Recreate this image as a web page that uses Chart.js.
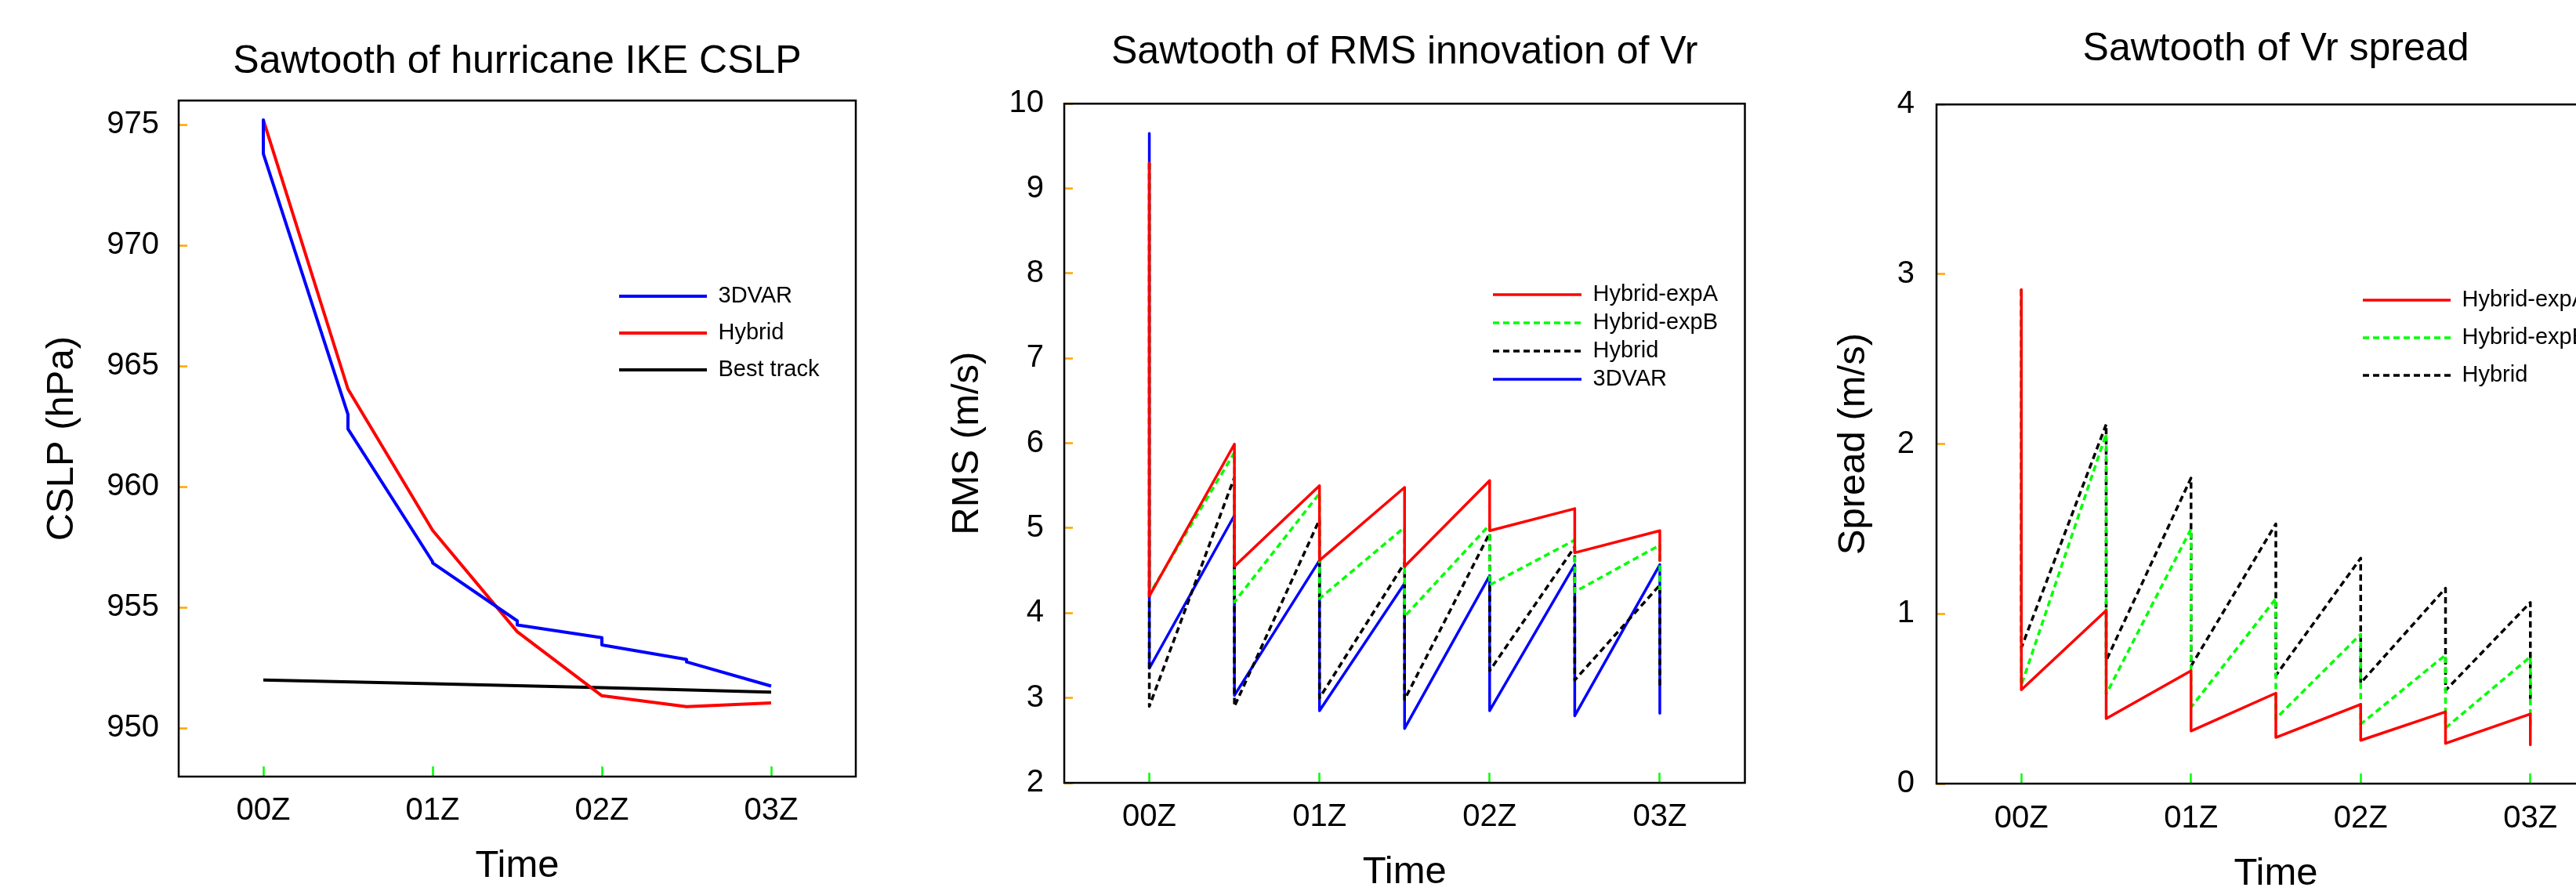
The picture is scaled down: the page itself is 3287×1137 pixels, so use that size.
<!DOCTYPE html>
<html>
<head>
<meta charset="utf-8">
<title>Sawtooth plots</title>
<script src="https://cdn.jsdelivr.net/npm/chart.js@4.4.1/dist/chart.umd.min.js"></script>
<style>
  html, body { margin: 0; padding: 0; width: 3287px; height: 1137px; overflow: hidden; background: #fff; }
  canvas { position: absolute; top: 0; }
</style>
</head>
<body>
<canvas id="cslp" width="1130" height="1137" style="left:0px"></canvas>
<canvas id="rms" width="1113" height="1137" style="left:1130px"></canvas>
<canvas id="spread" width="1134" height="1137" style="left:2243px"></canvas>
<script>
const cycle_hours = [0, 0.5, 1, 1.5, 2, 2.5, 3];
const hour_ticks = [0, 1, 2, 3];
const hour_labels = ["00Z", "01Z", "02Z", "03Z"];

// CSLP (hPa), value before (fcst) and after (anal) each update
const cslp_3dvar_fcst = [975.2, 963.0, 956.9, 954.45, 953.75, 952.85, 951.75];
const cslp_3dvar_anal = [973.8, 962.4, 956.85, 954.28, 953.45, 952.75, 951.75];
const cslp_hybrid = [975.2, 964.05, 958.2, 954.0, 951.35, 950.9, 951.05];
const best_track_hours = [0, 1, 2, 3];
const best_track_cslp = [952.0, 951.85, 951.68, 951.5];
const cslp_ticks = [950, 955, 960, 965, 970, 975];

// RMS innovation of Vr (m/s)
const rms_expA_fcst = [9.3, 5.99, 5.5, 5.48, 5.56, 5.23, 4.97];
const rms_expA_anal = [4.2, 4.55, 4.62, 4.55, 4.97, 4.71, 4.62];
const rms_expB_fcst = [9.3, 5.89, 5.41, 5.01, 5.04, 4.86, 4.8];
const rms_expB_anal = [4.22, 4.13, 4.17, 3.96, 4.33, 4.25, 4.27];
const rms_hybrid_fcst = [9.3, 5.6, 5.1, 4.59, 4.94, 4.78, 4.33];
const rms_hybrid_anal = [2.9, 2.9, 3.0, 2.98, 3.32, 3.21, 3.14];
const rms_3dvar_fcst = [9.65, 5.15, 4.62, 4.35, 4.44, 4.57, 4.57];
const rms_3dvar_anal = [3.35, 3.03, 2.85, 2.64, 2.85, 2.79, 2.82];
const rms_ticks = [2, 3, 4, 5, 6, 7, 8, 9, 10];

// Vr spread (m/s)
const spread_expA_fcst = [2.91, 1.02, 0.665, 0.533, 0.467, 0.423, 0.41];
const spread_expA_anal = [0.553, 0.383, 0.31, 0.272, 0.255, 0.237, 0.228];
const spread_expB_fcst = [2.91, 2.06, 1.5, 1.09, 0.88, 0.758, 0.747];
const spread_expB_anal = [0.58, 0.527, 0.449, 0.383, 0.35, 0.328, 0.317];
const spread_hybrid_fcst = [2.91, 2.116, 1.8, 1.53, 1.328, 1.151, 1.067];
const spread_hybrid_anal = [0.8, 0.725, 0.692, 0.637, 0.593, 0.549, 0.5];
const spread_ticks = [0, 1, 2, 3, 4];

Chart.defaults.font.family = "'Liberation Sans', Arial, sans-serif";
Chart.defaults.color = '#000';

const RED = '#ff0000', GREEN = '#00ff00', BLACK = '#000000', BLUE = '#0000ff';
const DASH = [8, 5];

function sawtooth(fcst, anal) {
    const pts = [];
    cycle_hours.forEach((h, i) => {
        pts.push({x: h, y: fcst[i]}, {x: h, y: anal[i]});
    });
    return pts;
}

function line(label, data, color, width, dash) {
    return {
        label: label,
        data: data,
        borderColor: color,
        backgroundColor: color,
        borderWidth: width,
        borderDash: dash || [],
        borderJoinStyle: 'round',
        pointRadius: 0,
        tension: 0,
        fill: false
    };
}

// box round the plot area
const frame = {
    id: 'frame',
    beforeDatasetsDraw(chart) {
        const {ctx, chartArea: a} = chart;
        ctx.save();
        ctx.strokeStyle = '#000';
        ctx.lineWidth = 2.5;
        ctx.strokeRect(a.left, a.top, a.width, a.height);
        ctx.restore();
    }
};

// move the legend inside the plot
const placeLegend = {
    id: 'placeLegend',
    afterLayout(chart, args, opts) {
        const lg = chart.legend;
        lg.left = opts.x - opts.pad;
        lg.top = opts.y - opts.pad - opts.size / 2;
    }
};

function makeChart(p) {
    const legendPad = p.legend.step - 29;
    return new Chart(document.getElementById(p.id), {
        type: 'line',
        data: { datasets: p.datasets },
        options: {
            responsive: false,
            animation: false,
            events: [],
            layout: { autoPadding: false, padding: { left: 0, top: 0, right: p.padRight, bottom: 0 } },
            scales: {
                x: {
                    type: 'linear',
                    min: -0.5,
                    max: 3.5,
                    afterBuildTicks: s => { s.ticks = hour_ticks.map(v => ({value: v})); },
                    afterFit: s => { s.height = p.xHeight; },
                    border: { display: false },
                    grid: { drawOnChartArea: false, drawTicks: true, tickLength: -13, tickWidth: 2.5, tickColor: GREEN },
                    ticks: {
                        padding: p.xTickPad,
                        font: { size: 40 },
                        color: '#000',
                        callback: v => hour_labels[hour_ticks.indexOf(v)]
                    },
                    title: { display: true, text: 'Time', font: { size: 49 }, color: '#000', padding: { top: 0, bottom: p.xTitlePad } }
                },
                y: {
                    min: p.yMin,
                    max: p.yMax,
                    afterBuildTicks: s => { s.ticks = p.yTicks.map(v => ({value: v})); },
                    afterFit: s => { s.width = 228; },
                    border: { display: false },
                    grid: { drawOnChartArea: false, drawTicks: true, tickLength: -11, tickWidth: 2.5, tickColor: '#ffa500' },
                    ticks: { padding: p.yTickPad, font: { size: 40 }, color: '#000' },
                    title: { display: true, text: p.yTitle, font: { size: 49 }, color: '#000', padding: { top: p.yTitlePad, bottom: 0 } }
                }
            },
            plugins: {
                title: {
                    display: true,
                    text: p.title,
                    fullSize: false,
                    color: '#000',
                    font: { size: 50, weight: 'normal' },
                    padding: p.titlePad
                },
                legend: {
                    position: 'chartArea',
                    align: 'start',
                    labels: {
                        usePointStyle: true,
                        pointStyle: 'line',
                        pointStyleWidth: p.legend.width,
                        padding: legendPad,
                        color: '#000',
                        font: { size: 29 },
                        generateLabels: chart => chart.data.datasets.map((ds, i) => ({
                            text: ds.label,
                            strokeStyle: ds.borderColor,
                            fillStyle: ds.borderColor,
                            lineWidth: ds.borderWidth,
                            lineDash: ds.borderDash,
                            pointStyle: 'line',
                            hidden: false,
                            datasetIndex: i
                        }))
                    }
                },
                tooltip: { enabled: false },
                placeLegend: { x: p.legend.x, y: p.legend.y, pad: legendPad, size: 29 }
            }
        },
        plugins: [frame, placeLegend]
    });
}

makeChart({
    id: 'cslp',
    title: 'Sawtooth of hurricane IKE CSLP',
    yTitle: 'CSLP (hPa)',
    yMin: 948, yMax: 976, yTicks: cslp_ticks,
    datasets: [
        line('3DVAR', sawtooth(cslp_3dvar_fcst, cslp_3dvar_anal), BLUE, 4),
        line('Hybrid', sawtooth(cslp_hybrid, cslp_hybrid), RED, 4),
        line('Best track', best_track_hours.map((h, i) => ({x: h, y: best_track_cslp[i]})), BLACK, 4)
    ],
    padRight: 38,
    titlePad: { top: 49, bottom: 19.3 },
    yTitlePad: 50,
    yTickPad: 36,
    xHeight: 146,
    xTickPad: 33,
    xTitlePad: 2.6,
    legend: { x: 790, y: 378, step: 47, width: 112 }
});

makeChart({
    id: 'rms',
    title: 'Sawtooth of RMS innovation of Vr',
    yTitle: 'RMS (m/s)',
    yMin: 2, yMax: 10, yTicks: rms_ticks,
    datasets: [
        line('Hybrid-expA', sawtooth(rms_expA_fcst, rms_expA_anal), RED, 3.5),
        line('Hybrid-expB', sawtooth(rms_expB_fcst, rms_expB_anal), GREEN, 3.5, DASH),
        line('Hybrid', sawtooth(rms_hybrid_fcst, rms_hybrid_anal), BLACK, 3.5, DASH),
        line('3DVAR', sawtooth(rms_3dvar_fcst, rms_3dvar_anal), BLUE, 3.5)
    ],
    padRight: 16.5,
    titlePad: { top: 37.3, bottom: 35 },
    yTitlePad: 75,
    yTickPad: 37,
    xHeight: 138,
    xTickPad: 33,
    xTitlePad: -6,
    legend: { x: 775, y: 376, step: 36, width: 113 }
});

makeChart({
    id: 'spread',
    title: 'Sawtooth of Vr spread',
    yTitle: 'Spread (m/s)',
    yMin: 0, yMax: 4, yTicks: spread_ticks,
    datasets: [
        line('Hybrid-expA', sawtooth(spread_expA_fcst, spread_expA_anal), RED, 3.5),
        line('Hybrid-expB', sawtooth(spread_expB_fcst, spread_expB_anal), GREEN, 3.5, DASH),
        line('Hybrid', sawtooth(spread_hybrid_fcst, spread_hybrid_anal), BLACK, 3.5, DASH)
    ],
    padRight: 40,
    titlePad: { top: 33.6, bottom: 39.7 },
    yTitlePad: 93,
    yTickPad: 39,
    xHeight: 137,
    xTickPad: 34,
    xTitlePad: -8,
    legend: { x: 772, y: 383, step: 48, width: 112 }
});
</script>
</body>
</html>
